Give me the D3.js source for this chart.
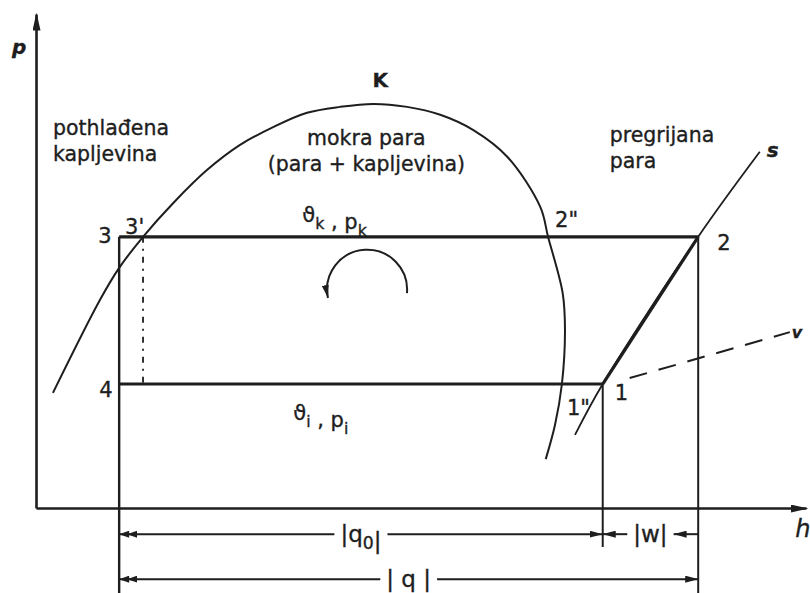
<!DOCTYPE html>
<head>
  <meta charset="utf-8" />
  <style>
    body { margin: 0; background: #fff; }
    text { font-family: 'DejaVu Sans', sans-serif; fill: #1e1e1e; stroke: #1e1e1e; stroke-width: 0.35; }
  </style>
</head>
<div id="chart"></div>
<script src="https://cdn.jsdelivr.net/npm/d3@7/dist/d3.min.js"></script>
<script>
  // saturation curve (h and p in relative units 0..100)
  const domeH = [2.2, 8.3, 10.8, 13.9, 17.8, 22.2, 26.5, 30.8, 35.2, 39.5, 43.8,
    48.2, 52.5, 56.8, 61.2, 65.5, 66.5, 68.4, 68.7, 68.3, 67.4, 66.2];
  const domeP = [23.3, 42.1, 48.6, 54.9, 61.7, 68.4, 73.5, 77.1, 80.0, 81.2, 81.8,
    81.2, 79.6, 76.5, 71.1, 60.9, 54.9, 43.5, 36.0, 25.1, 16.8, 9.9];

  // cycle state points
  const stateNames = ['1', '2', '3', "3'", '4', '2"', '1"'];
  const stateH = [73.6, 86.0, 10.8, 13.9, 10.8, 66.5, 68.3];
  const stateP = [25.1, 54.9, 54.9, 54.9, 25.1, 54.9, 25.1];

  // isentrope s and isochore v
  const isentropeH = [70.0, 73.6, 86.0, 94.0];
  const isentropeP = [14.8, 25.1, 54.9, 72.1];
  const isochoreH = [77.1, 97.9];
  const isochoreP = [26.3, 35.6];

  // dimension rows below the h axis
  const dimLevels = { q0: -5.3, q: -14.4 };
  const extBottom = -18;
  const extBottom1 = -7.9;

  const regionLabels = [
    ['pothlađena', 'kapljevina'],
    ['mokra para', '(para + kapljevina)'],
    ['pregrijana', 'para'],
  ];

  const ink = '#1e1e1e';
  const width = 810, height = 593;

  const svg = d3.select('#chart').append('svg')
    .attr('width', width).attr('height', height);

  const x = d3.scaleLinear().domain([0, 100]).range([36, 806]);
  const y = d3.scaleLinear().domain([0, 100]).range([508, 14]);

  const defs = svg.append('defs');
  const addMarker = (id, d, w, h, refX) => {
    defs.append('marker')
      .attr('id', id)
      .attr('viewBox', `0 ${-h / 2} ${w} ${h}`)
      .attr('refX', refX).attr('refY', 0)
      .attr('markerWidth', w).attr('markerHeight', h)
      .attr('markerUnits', 'userSpaceOnUse')
      .attr('orient', 'auto-start-reverse')
      .append('path').attr('d', d).attr('fill', ink);
  };
  addMarker('axisArrow', 'M0,-4L18,0L0,4Z', 18, 8, 16);
  addMarker('arrow', 'M0,-3.5L13,0L0,3.5Z', 13, 7, 13);
  addMarker('dblArrow', 'M0,-3.5L10,0L0,3.5Z M8,-3.5L18,0L8,3.5Z', 18, 7, 18);

  // axes (no ticks, just the arrows)
  const gx = svg.append('g').attr('transform', `translate(0,${y(0)})`)
    .call(d3.axisBottom(x).tickValues([]).tickSizeOuter(0));
  const gy = svg.append('g').attr('transform', `translate(${x(0)},0)`)
    .call(d3.axisLeft(y).tickValues([]).tickSizeOuter(0));
  [gx, gy].forEach((g) => {
    g.select('.domain')
      .attr('stroke', ink).attr('stroke-width', 2.6)
      .attr('marker-end', 'url(#axisArrow)');
  });

  const pt = (name) => {
    const i = stateNames.indexOf(name);
    return [stateH[i], stateP[i]];
  };
  const line = d3.line().x((d) => x(d[0])).y((d) => y(d[1]));
  const smooth = d3.line().x((d) => x(d[0])).y((d) => y(d[1]))
    .curve(d3.curveCatmullRom.alpha(0.5));
  const seg = (a, b, w, dash) => svg.append('path')
    .attr('d', line([a, b]))
    .attr('fill', 'none').attr('stroke', ink)
    .attr('stroke-width', w)
    .attr('stroke-dasharray', dash || null);

  // saturation dome
  svg.append('path')
    .attr('d', smooth(d3.zip(domeH, domeP)))
    .attr('fill', 'none').attr('stroke', ink).attr('stroke-width', 2);

  // isentrope through 1 and 2
  svg.append('path')
    .attr('d', smooth(d3.zip(isentropeH, isentropeP)))
    .attr('fill', 'none').attr('stroke', ink).attr('stroke-width', 1.8);

  // isochore v
  seg([isochoreH[0], isochoreP[0]], [isochoreH[1], isochoreP[1]], 2, '18,12');

  // cycle
  const p1 = pt('1'), p2 = pt('2'), p3 = pt('3'), p3a = pt("3'"), p4 = pt('4');
  seg(p3, p2, 3.2);
  seg(p4, p1, 3.2);
  seg(p1, p2, 3.2);
  seg([p3[0], p3[1]], [p3[0], extBottom], 2.4);
  seg([p2[0], p2[1]], [p2[0], extBottom], 2);
  seg([p1[0], p1[1]], [p1[0], extBottom1], 2);
  seg(p3a, [p3a[0], p4[1]], 1.8, '6,6,2,6');

  // rotation arrow (cycle direction)
  const c = [x(43.0), y(44.2)], r = 40;
  const arcPath = d3.path();
  arcPath.arc(c[0], c[1], r, (5 * Math.PI) / 180, (-192 * Math.PI) / 180, true);
  svg.append('path').attr('d', arcPath.toString())
    .attr('fill', 'none').attr('stroke', ink).attr('stroke-width', 2)
    .attr('marker-end', 'url(#arrow)');

  // text helper with subscripts
  const rich = (px, py, parts, size, anchor) => {
    const t = svg.append('text')
      .attr('x', px).attr('y', py)
      .attr('font-size', size)
      .attr('text-anchor', anchor || 'start');
    parts.forEach(([s, sub]) => {
      t.append('tspan')
        .attr('font-size', sub ? size * 0.75 : size)
        .attr('dy', sub ? 7 : 0)
        .text(s);
      if (sub) t.append('tspan').attr('dy', -7).text('');
    });
    return t;
  };

  // region labels
  const regionAt = [[2.2, 75.6, 'start'], [42.9, 73.5, 'middle'], [74.5, 74.0, 'start']];
  regionLabels.forEach((lines, i) => {
    const [h, p, anchor] = regionAt[i];
    lines.forEach((s, j) => {
      svg.append('text')
        .attr('x', x(h)).attr('y', y(p) + j * 26)
        .attr('text-anchor', anchor)
        .attr('font-size', 20.5)
        .text(s);
    });
  });

  svg.append('text').attr('x', x(44.7)).attr('y', y(85.2))
    .attr('text-anchor', 'middle').attr('font-size', 20).attr('font-weight', 'bold')
    .text('K');

  // state point labels, offset from each point
  const labelOffset = {
    '1': [12, 16], '2': [19, 13], '3': [-21, 6], "3'": [-18, -3],
    '4': [-20, 13], '2"': [7, -10], '1"': [5, 31],
  };
  stateNames.forEach((n, i) => {
    const [dx, dy] = labelOffset[n];
    svg.append('text')
      .attr('x', x(stateH[i]) + dx).attr('y', y(stateP[i]) + dy)
      .attr('font-size', 21)
      .text(n);
  });

  rich(x(p3[0]) + 183, y(p3[1]) - 15, [['ϑ'], ['k', 1], [' , '], ['p'], ['k', 1]], 21);
  rich(x(p4[0]) + 174, y(p4[1]) + 36, [['ϑ'], ['i', 1], [' , '], ['p'], ['i', 1]], 21);

  // axis names
  svg.append('text').attr('x', x(0) - 24).attr('y', y(92))
    .attr('font-size', 20).attr('font-weight', 'bold').attr('font-style', 'italic')
    .text('p');
  svg.append('text').attr('x', x(98.6)).attr('y', y(0) + 29)
    .attr('font-size', 24).attr('font-style', 'italic')
    .text('h');
  svg.append('text').attr('x', x(isentropeH[3]) + 7).attr('y', y(isentropeP[3]) + 5)
    .attr('font-size', 20).attr('font-weight', 'bold').attr('font-style', 'italic')
    .text('s');
  svg.append('text').attr('x', x(isochoreH[1]) + 2).attr('y', y(isochoreP[1]) + 6)
    .attr('font-size', 16).attr('font-weight', 'bold').attr('font-style', 'italic')
    .text('v');

  // dimension lines with a gap for the label
  const dimension = (h0, h1, level, parts, startMark, endMark, rightStartMark) => {
    const yy = y(level);
    const t = rich(x((h0 + h1) / 2), yy + 8, parts, 23, 'middle');
    const bb = t.node().getBBox();
    const pad = 6;
    svg.append('line')
      .attr('x1', x(h0)).attr('x2', bb.x - pad)
      .attr('y1', yy).attr('y2', yy)
      .attr('stroke', ink).attr('stroke-width', 2)
      .attr('marker-start', startMark);
    svg.append('line')
      .attr('x1', bb.x + bb.width + pad).attr('x2', x(h1))
      .attr('y1', yy).attr('y2', yy)
      .attr('stroke', ink).attr('stroke-width', 2)
      .attr('marker-end', endMark || null)
      .attr('marker-start', rightStartMark || null);
  };
  dimension(p3[0], p1[0], dimLevels.q0, [['|q'], ['0', 1], ['|']], 'url(#dblArrow)', 'url(#arrow)');
  dimension(p1[0], p2[0], dimLevels.q0, [['|w|']], 'url(#arrow)', null, 'url(#arrow)');
  dimension(p3[0], p2[0], dimLevels.q, [['| q |']], 'url(#dblArrow)', 'url(#arrow)');
</script>
